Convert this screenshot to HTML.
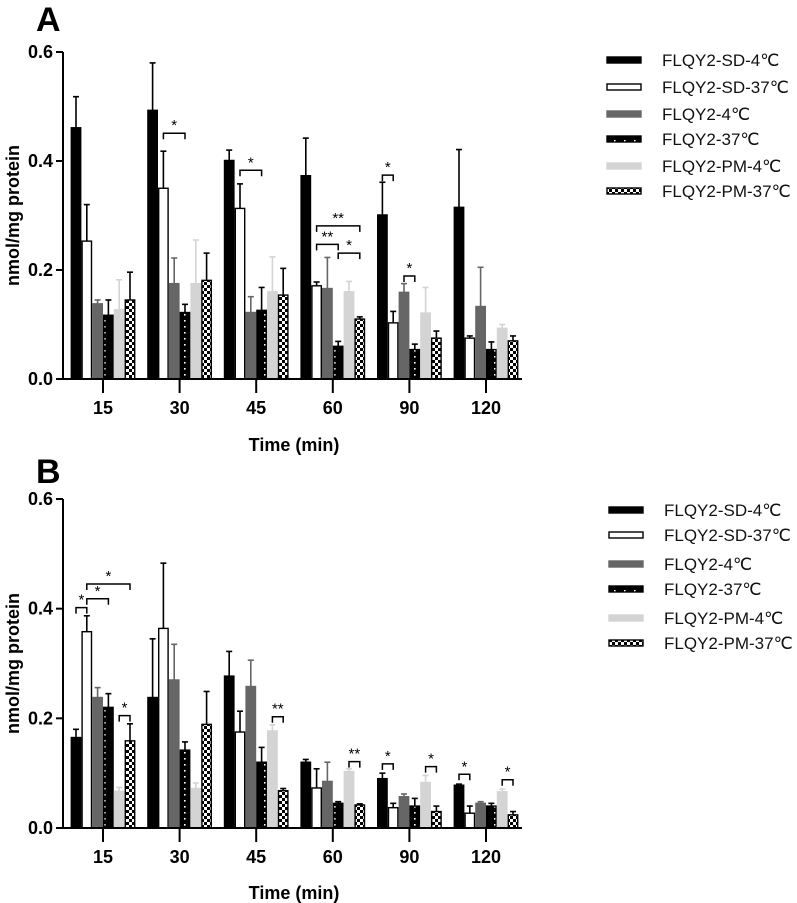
<!DOCTYPE html>
<html><head><meta charset="utf-8"><style>
html,body{margin:0;padding:0;background:#fff;}
svg{display:block;font-family:"Liberation Sans",Arial,sans-serif;}
</style></head><body>
<svg id="chart" width="797" height="903" viewBox="0 0 797 903" xmlns="http://www.w3.org/2000/svg">
<defs>
<pattern id="dots" width="10" height="12" patternUnits="userSpaceOnUse">
<rect width="10" height="12" fill="#000"/><rect x="4" y="2" width="1.6" height="1.6" fill="#fff"/><rect x="4" y="8" width="1.6" height="1.6" fill="#fff"/>
</pattern>
<pattern id="check" width="6" height="6" patternUnits="userSpaceOnUse">
<rect width="6" height="6" fill="#fff"/><rect width="3" height="3" fill="#000"/><rect x="3" y="3" width="3" height="3" fill="#000"/>
</pattern>
</defs>
</svg>
<script>
const categories = ["15","30","45","60","90","120"];
const seriesNames = ["FLQY2-SD-4℃","FLQY2-SD-37℃","FLQY2-4℃","FLQY2-37℃","FLQY2-PM-4℃","FLQY2-PM-37℃"];
const yTicks = [0, 0.2, 0.4, 0.6];
const yTickLabels = ["0.0","0.2","0.4","0.6"];
// Panel A values [series][category]
const aSD4 = [0.461,0.493,0.401,0.373,0.301,0.315];
const aSD37 = [0.253,0.350,0.313,0.171,0.103,0.075];
const a4 = [0.138,0.175,0.122,0.166,0.159,0.133];
const a37 = [0.117,0.122,0.126,0.060,0.054,0.054];
const aPM4 = [0.127,0.175,0.160,0.160,0.121,0.093];
const aPM37 = [0.145,0.181,0.154,0.110,0.075,0.070];
const aErrSD4 = [0.518,0.580,0.420,0.442,0.361,0.421];
const aErrSD37 = [0.320,0.418,0.358,0.178,0.124,0.079];
const aErr4 = [0.145,0.222,0.151,0.223,0.175,0.205];
const aErr37 = [0.145,0.137,0.168,0.069,0.064,0.068];
const aErrPM4 = [0.182,0.255,0.224,0.179,0.168,0.100];
const aErrPM37 = [0.196,0.231,0.203,0.114,0.088,0.079];
// brackets: [category, barA, barB, height, label]
const aSig = [[1,1,3,0.451,"*"],[2,1,3,0.383,"*"],[3,1,3,0.247,"**"],[3,3,5,0.231,"*"],[3,1,5,0.281,"**"],[4,0,1,0.374,"*"],[4,2,3,0.189,"*"]];
// Panel B values
const bSD4 = [0.165,0.238,0.277,0.120,0.090,0.078];
const bSD37 = [0.358,0.364,0.175,0.073,0.037,0.027];
const b4 = [0.238,0.270,0.258,0.085,0.057,0.045];
const b37 = [0.220,0.142,0.120,0.045,0.040,0.040];
const bPM4 = [0.067,0.072,0.177,0.103,0.083,0.066];
const bPM37 = [0.159,0.189,0.068,0.042,0.030,0.024];
const bErrSD4 = [0.180,0.345,0.322,0.125,0.100,0.080];
const bErrSD37 = [0.387,0.483,0.213,0.108,0.045,0.040];
const bErr4 = [0.256,0.335,0.306,0.120,0.062,0.048];
const bErr37 = [0.245,0.157,0.147,0.048,0.054,0.045];
const bErrPM4 = [0.074,0.082,0.188,0.108,0.096,0.071];
const bErrPM37 = [0.190,0.249,0.072,0.044,0.040,0.030];
const bSig = [[0,0,1,0.402,"*"],[0,1,3,0.418,"*"],[0,1,5,0.445,"*"],[0,4,5,0.205,"*"],[2,4,5,0.203,"**"],[3,4,5,0.121,"**"],[4,0,1,0.117,"*"],[4,4,5,0.112,"*"],[5,0,1,0.098,"*"],[5,4,5,0.088,"*"]];

const NS="http://www.w3.org/2000/svg";
const svg=document.getElementById('chart');
const fills=["#000","#fff","#666","url(#dots)","#d4d4d4","url(#check)"];
const strokes=["#000","#000","#666","#000","#d4d4d4","#000"];
const errCol=["#000","#000","#666","#000","#d4d4d4","#000"];
function mk(tag,attrs,parent){const e=document.createElementNS(NS,tag);for(const k in attrs)e.setAttribute(k,attrs[k]);(parent||svg).appendChild(e);return e;}

function panel(opt){
  const g=mk('g',{});
  
  
  const y=v=>opt.y0-(v/0.6)*(opt.y0-opt.y6);
  const x=i=>103+i*76.6;
  const bx=(i,s)=>x(i)+(s-2.5)*10.8;
  const vals=opt.vals, errs=opt.errs;
  for(let s=0;s<6;s++){
    for(let i=0;i<categories.length;i++){
      const v=vals[s][i], e=errs[s][i], cx=bx(i,s);
      const ln=mk('line',{x1:cx,x2:cx,y1:y(v),y2:y(e),stroke:errCol[s],'stroke-width':1.6},g);
      
      
      const cap=mk('line',{x1:cx-3,x2:cx+3,y1:y(e),y2:y(e),stroke:errCol[s],'stroke-width':1.6},g);
      
      
      const r=mk('rect',{x:cx-4.7,y:y(v),width:9.4,height:y(0)-y(v),fill:fills[s],stroke:strokes[s],'stroke-width':1.4},g);
      
      
    }
  }
  opt.sig.forEach(b=>{
    const x1=bx(b[0],b[1]), x2=bx(b[0],b[2]), yy=y(b[3]);
    const p=mk('path',{d:`M${x1},${yy+6}V${yy}H${x2}V${yy+6}`,fill:'none',stroke:'#000','stroke-width':1.5},g);
    
    
    const t=mk('text',{x:(x1+x2)/2,y:yy-3,'text-anchor':'middle','font-size':15},g);
    t.textContent=b[4];
    
    
  });
  const ya=mk('line',{x1:63,x2:63,y1:y(0.6),y2:y(0)+1,stroke:'#000','stroke-width':2},g);
  
  
  const xa=mk('line',{x1:62,x2:522,y1:y(0),y2:y(0),stroke:'#000','stroke-width':2},g);
  
  
  yTicks.forEach((v,k)=>{
    const tk=mk('line',{x1:56,x2:63,y1:y(v),y2:y(v),stroke:'#000','stroke-width':2},g);
    
    
    const t=mk('text',{x:53,y:y(v)+6,'text-anchor':'end','font-size':18,'font-weight':'bold'},g);
    t.textContent=yTickLabels[k];
    
    
  });
  categories.forEach((c,i)=>{
    const tk=mk('line',{x1:x(i),x2:x(i),y1:y(0),y2:y(0)+14,stroke:'#000','stroke-width':2},g);
    
    
    const t=mk('text',{x:x(i),y:opt.xlab,'text-anchor':'middle','font-size':18,'font-weight':'bold'},g);
    t.textContent=c;
    
    
  });
  const xt=mk('text',{x:294,y:opt.xtitle,'text-anchor':'middle','font-size':18,'font-weight':'bold'},g);
  xt.textContent='Time (min)';
  
  
  const yc=(y(0)+y(0.6))/2;
  const yt=mk('text',{x:0,y:0,transform:`translate(19,${yc}) rotate(-90)`,'text-anchor':'middle','font-size':18,'font-weight':'bold'},g);
  yt.textContent='nmol/mg protein';
  
  
  const pl=mk('text',{x:36,y:opt.lab,'font-size':34,'font-weight':'bold'},g);
  pl.textContent=opt.letter;
  
  
  opt.leg.forEach((ly,s)=>{
    const r=mk('rect',{x:opt.legx,y:ly-3,width:34,height:6,fill:fills[s],stroke:strokes[s],'stroke-width':1.4},g);
    
    
    const t=mk('text',{x:opt.legx+55,y:ly+6,'font-size':17,fill:'#111'},g);
    t.textContent=seriesNames[s];
    
    
  });
}
panel({name:'panel-a',letter:'A',lab:31,y0:379,y6:52,xlab:414,xtitle:451,
  vals:[aSD4,aSD37,a4,a37,aPM4,aPM37],errs:[aErrSD4,aErrSD37,aErr4,aErr37,aErrPM4,aErrPM37],sig:aSig,
  legx:607,leg:[60,87,114,139,166,191]});
panel({name:'panel-b',letter:'B',lab:483,y0:828,y6:499,xlab:863,xtitle:899,
  vals:[bSD4,bSD37,b4,b37,bPM4,bPM37],errs:[bErrSD4,bErrSD37,bErr4,bErr37,bErrPM4,bErrPM37],sig:bSig,
  legx:609,leg:[510,535,564,589,618,643]});
</script>
</body></html>
